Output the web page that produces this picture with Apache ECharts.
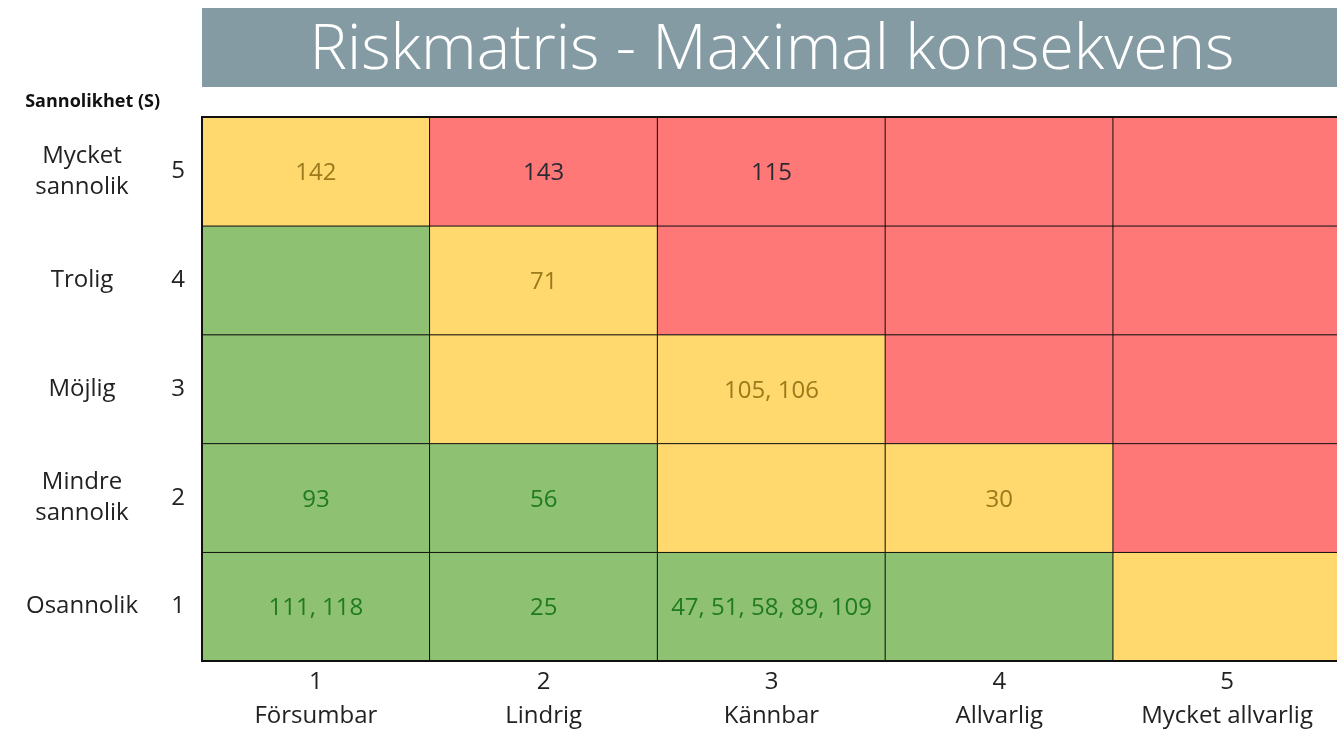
<!DOCTYPE html>
<html>
<head>
<meta charset="utf-8">
<script src="https://cdn.jsdelivr.net/npm/echarts@6/dist/echarts.min.js"></script>
<style>
  html, body { margin: 0; padding: 0; background: #fff; }
  #chart { width: 1337px; height: 731px; }
</style>
</head>
<body>
<div id="chart"></div>
<script>
// konsekvens (x) and sannolikhet (y)
const konsekvensNr = ['1', '2', '3', '4', '5'];
const konsekvensNamn = ['Försumbar', 'Lindrig', 'Kännbar', 'Allvarlig', 'Mycket allvarlig'];
const sannolikhetNr = ['1', '2', '3', '4', '5'];
const sannolikhetNamn = ['Osannolik', 'Mindre\nsannolik', 'Möjlig', 'Trolig', 'Mycket\nsannolik'];

// risk level per cell, rows from S=1 (bottom) to S=5 (top); 0 green, 1 yellow, 2 red
const riskNiva = [
  [0, 0, 0, 0, 1],
  [0, 0, 1, 1, 2],
  [0, 1, 1, 2, 2],
  [0, 1, 2, 2, 2],
  [1, 2, 2, 2, 2],
];
// risk ids per cell, same order
const riskId = [
  ['111, 118', '25', '47, 51, 58, 89, 109', '', ''],
  ['93', '56', '', '30', ''],
  ['', '', '105, 106', '', ''],
  ['', '71', '', '', ''],
  ['142', '143', '115', '', ''],
];

const fillColors = ['#8fc172', '#ffd86e', '#ff7878'];
const textColors = ['#1f7a22', '#9a7a1a', '#2b2a33'];
const FONT = '"Open Sans", "DejaVu Sans", sans-serif';

const cells = [];
riskNiva.forEach((row, y) => {
  row.forEach((lvl, x) => {
    cells.push({
      value: [x, y, lvl],
      itemStyle: { color: fillColors[lvl] },
      label: { color: textColors[lvl] },
    });
  });
});

const chart = echarts.init(document.getElementById('chart'));

chart.setOption({
  animation: false,
  backgroundColor: '#fff',
  graphic: [
    {
      type: 'rect',
      z: 0,
      shape: { x: 202, y: 8, width: 1160, height: 79 },
      style: { fill: '#849ba3' },
    },
    {
      type: 'text',
      z: 1,
      x: 772,
      y: 51,
      style: {
        text: 'Riskmatris - Maximal konsekvens',
        fill: '#fff',
        font: '300 63px ' + FONT,
        textAlign: 'center',
        textVerticalAlign: 'middle',
      },
    },
  ],
  grid: { left: 202, top: 117, width: 1139, height: 544, outerBoundsMode: 'none' },
  xAxis: [
    {
      type: 'category',
      data: konsekvensNr,
      position: 'bottom',
      axisLine: { lineStyle: { color: '#111', width: 2 } },
      axisTick: { show: false },
      splitLine: { show: false },
      axisLabel: {
        margin: 4,
        color: '#222',
        fontFamily: FONT,
        fontSize: 24,
        lineHeight: 34,
        formatter: (v, i) => v + '\n' + konsekvensNamn[i],
      },
      z: 10,
    },
    {
      type: 'category',
      data: konsekvensNr,
      position: 'top',
      axisLine: { lineStyle: { color: '#111', width: 2 } },
      axisTick: { show: false },
      axisLabel: { show: false },
      z: 10,
    },
  ],
  yAxis: [
    {
      type: 'category',
      data: sannolikhetNr,
      position: 'left',
      axisLine: { lineStyle: { color: '#111', width: 2 } },
      axisTick: { show: false },
      axisLabel: {
        margin: 24,
        align: 'center',
        color: '#222',
        fontFamily: FONT,
        fontSize: 24,
      },
      name: 'Sannolikhet (S)',
      nameLocation: 'end',
      nameGap: 6,
      nameTextStyle: {
        align: 'right',
        padding: [0, 42, 0, 0],
        color: '#111',
        fontFamily: FONT,
        fontWeight: 'bold',
        fontSize: 18,
      },
      z: 10,
    },
    {
      type: 'category',
      data: sannolikhetNamn,
      position: 'left',
      axisLine: { show: false },
      axisTick: { show: false },
      axisLabel: {
        margin: 120,
        align: 'center',
        color: '#222',
        fontFamily: FONT,
        fontSize: 24,
        lineHeight: 31,
      },
    },
  ],
  series: [
    {
      type: 'heatmap',
      xAxisIndex: 0,
      yAxisIndex: 0,
      data: cells,
      itemStyle: { borderColor: '#111', borderWidth: 1 },
      label: {
        show: true,
        fontFamily: FONT,
        fontSize: 24,
        offset: [0, 2],
        formatter: (p) => riskId[p.value[1]][p.value[0]],
      },
      emphasis: { disabled: true },
    },
  ],
});
</script>
</body>
</html>
